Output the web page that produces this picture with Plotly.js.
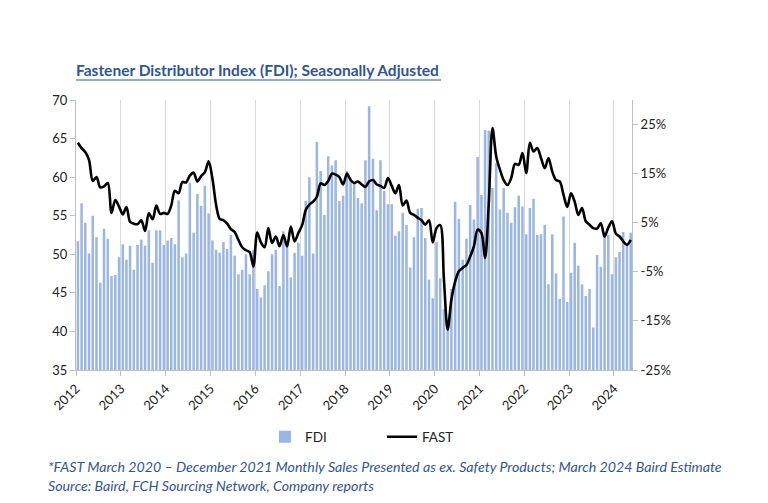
<!DOCTYPE html>
<html>
<head>
<meta charset="utf-8">
<script src="https://cdn.plot.ly/plotly-3.0.1.min.js"></script>
<style>
html,body{margin:0;padding:0;background:#fff;}
#chart{width:768px;height:503px;}
</style>
</head>
<body>
<div id="chart"></div>
<script>
// Years shown on the axis
const years = [2012,2013,2014,2015,2016,2017,2018,2019,2020,2021,2022,2023,2024];

// FDI (left axis), monthly, seasonally adjusted
const fdi2012 = [51.7,56.6,54.1,50.1,55.0,52.2,46.3,53.3,52.0,47.2,47.3,49.6];
const fdi2013 = [51.3,49.3,51.1,48.0,51.2,51.9,51.1,53.1,48.9,53.1,53.1,51.2];
const fdi2014 = [51.8,52.1,51.3,57.0,49.6,50.1,59.3,52.8,57.8,56.3,58.9,55.3];
const fdi2015 = [51.8,50.6,50.2,51.6,50.7,52.5,49.8,47.4,48.0,50.0,47.4,50.6];
const fdi2016 = [45.5,44.4,46.0,47.8,50.0,50.6,45.9,53.0,51.3,47.0,50.2,51.5];
const fdi2017 = [49.8,56.9,60.0,50.1,64.6,60.8,55.1,62.7,61.5,62.2,56.9,57.6];
const fdi2018 = [60.8,59.9,59.1,57.3,56.6,62.2,69.2,62.4,55.7,62.2,58.2,56.5];
const fdi2019 = [56.5,52.4,53.0,55.4,53.8,48.3,52.2,55.9,56.0,52.1,46.7,44.3];
const fdi2020 = [51.6,46.9,42.9,40.4,45.5,56.8,54.6,49.3,52.0,56.4,54.5,62.6];
const fdi2021 = [57.7,66.1,66.0,58.6,61.8,55.8,58.6,55.4,54.1,56.1,57.6,56.2];
const fdi2022 = [52.6,56.0,57.2,52.5,52.6,53.8,46.1,52.6,47.5,44.2,54.9,43.8];
const fdi2023 = [47.6,51.5,48.5,46.1,44.6,45.5,40.5,49.9,48.4,52.9,52.5,47.4];
const fdi2024 = [49.6,50.3,52.9,51.3,52.8];

// FAST monthly sales growth, % (right axis)
const fast2012 = [21.3,20.2,19.4,17.8,13.5,14.3,12.2,12.4,13.1,7.0,9.6,8.3];
const fast2013 = [6.7,8.2,5.2,4.8,4.7,5.5,3.3,6.9,5.7,8.5,6.8,7.0];
const fast2014 = [6.8,8.5,11.5,11.0,13.3,13.2,14.6,15.2,13.4,14.5,15.3,17.5];
const fast2015 = [14.0,8.7,5.8,5.5,4.8,3.7,3.1,1.5,0.0,-0.6,-1.0,-3.9];
const fast2016 = [3.0,1.0,0.0,3.9,0.9,2.2,0.2,2.5,0.2,4.2,1.2,2.9];
const fast2017 = [4.5,7.6,8.7,9.3,10.3,13.0,12.7,13.5,15.0,14.8,14.3,12.8];
const fast2018 = [15.0,13.7,13.1,13.4,12.8,12.3,13.4,13.7,12.8,12.5,12.1,14.1];
const fast2019 = [12.5,11.0,12.7,8.5,9.5,7.0,6.6,6.0,5.5,4.6,5.5,1.0];
const fast2020 = [3.9,4.5,-6.5,-16.8,-10.7,-7.0,-4.9,-4.2,-3.6,-1.9,0.2,3.6];
const fast2021 = [2.9,-2.2,8.6,24.3,18.5,15.8,13.7,12.7,14.1,17.0,16.8,19.2];
const fast2022 = [15.1,21.3,19.5,20.2,18.2,16.1,18.2,15.4,13.7,13.4,10.7,8.2];
const fast2023 = [11.0,9.3,6.6,8.0,5.3,4.6,3.9,3.8,4.9,2.2,4.0,5.3];
const fast2024 = [2.8,2.2,1.2,0.5,1.5];

const fdiByYear = [fdi2012,fdi2013,fdi2014,fdi2015,fdi2016,fdi2017,fdi2018,fdi2019,fdi2020,fdi2021,fdi2022,fdi2023,fdi2024];
const fastByYear = [fast2012,fast2013,fast2014,fast2015,fast2016,fast2017,fast2018,fast2019,fast2020,fast2021,fast2022,fast2023,fast2024];

const rightTicks = [-25,-15,-5,5,15,25];
const rightTickText = rightTicks.map(v => v + '%');

const titleText = 'Fastener Distributor Index (FDI); Seasonally Adjusted';
const note1 = '*FAST March 2020 \u2013 December 2021 Monthly Sales Presented as ex. Safety Products; March 2024 Baird Estimate';
const note2 = 'Source: Baird, FCH Sourcing Network, Company reports';

// Build monthly x dates
const months = [], fdi = [], fast = [];
years.forEach((y, i) => {
  fdiByYear[i].forEach((v, m) => {
    months.push(y + '-' + String(m + 1).padStart(2, '0') + '-01');
    fdi.push(v);
    fast.push(fastByYear[i][m]);
  });
});

const W = 768, H = 503;
const L = 76, R = 632, T = 100, B = 370;
const px = x => (x - L) / (R - L);
const py = y => (B - y) / (B - T);

const fontFam = 'Lato, "Open Sans", "DejaVu Sans", sans-serif';
const blue = '#2F5597';
const axisGrey = '#BFBFBF';

const traces = [
  {
    type: 'bar', name: 'FDI', x: months, y: fdi,
    xperiod: 'M1', xperiodalignment: 'middle',
    marker: {color: '#9AB6E4', line: {width: 0}},
    yaxis: 'y'
  },
  {
    type: 'scatter', mode: 'lines', name: 'FAST', x: months, y: fast,
    xperiod: 'M1', xperiodalignment: 'middle',
    line: {color: '#000000', width: 2.6, shape: 'spline', smoothing: 0.9},
    yaxis: 'y2'
  }
];

const layout = {
  width: W, height: H,
  margin: {l: L, r: W - R, t: T, b: H - B, pad: 0},
  paper_bgcolor: '#ffffff', plot_bgcolor: '#ffffff',
  font: {family: fontFam, size: 13, color: '#404040'},
  bargap: 0.3,
  showlegend: true,
  title: {
    text: '<b>' + titleText + '</b>',
    font: {family: fontFam, size: 15.5, color: blue},
    xref: 'paper', x: 0, xanchor: 'left',
    yref: 'container', y: 1 - 71 / H, yanchor: 'middle'
  },
  xaxis: {
    type: 'date',
    range: ['2012-01-01', '2024-05-27'],
    tick0: '2012-01-01', dtick: 'M12', tickformat: '%Y',
    tickangle: -45,
    showgrid: true, gridcolor: '#D9D9D9', gridwidth: 1,
    showline: true, linecolor: axisGrey, linewidth: 1,
    ticks: 'outside', ticklen: 5, tickcolor: axisGrey,
    tickfont: {family: fontFam, size: 13, color: '#222'},
    zeroline: false
  },
  yaxis: {
    range: [35, 70], dtick: 5, tick0: 35,
    showgrid: false, zeroline: false,
    showline: true, linecolor: axisGrey, linewidth: 1,
    ticks: 'outside', ticklen: 5, tickcolor: axisGrey,
    tickfont: {family: fontFam, size: 13, color: '#222'}
  },
  yaxis2: {
    overlaying: 'y', side: 'right',
    range: [-25, 30],
    tickmode: 'array', tickvals: rightTicks, ticktext: rightTickText,
    showgrid: false, zeroline: false,
    showline: true, linecolor: axisGrey, linewidth: 1,
    ticks: 'outside', ticklen: 5, tickcolor: axisGrey,
    tickfont: {family: fontFam, size: 13, color: '#222'}
  },
  legend: {
    orientation: 'h',
    x: px(265), xanchor: 'left',
    y: py(437), yanchor: 'middle',
    font: {family: fontFam, size: 13.5, color: '#222'},
    itemwidth: 30,
    entrywidth: 72, entrywidthmode: 'pixels',
    bgcolor: 'rgba(0,0,0,0)'
  },
  shapes: [
    {type: 'line', xref: 'paper', yref: 'paper',
     x0: 0, x1: px(441), y0: py(80), y1: py(80),
     line: {color: blue, width: 1.2}}
  ],
  annotations: [
    {text: '<i>' + note1 + '</i>', xref: 'paper', yref: 'paper',
     x: px(46), y: py(466), xanchor: 'left', yanchor: 'middle', showarrow: false,
     font: {family: fontFam, size: 14.2, color: blue}},
    {text: '<i>' + note2 + '</i>', xref: 'paper', yref: 'paper',
     x: px(46), y: py(485), xanchor: 'left', yanchor: 'middle', showarrow: false,
     font: {family: fontFam, size: 14.2, color: blue}}
  ]
};

Plotly.newPlot('chart', traces, layout, {displayModeBar: false, staticPlot: true});
</script>
</body>
</html>
